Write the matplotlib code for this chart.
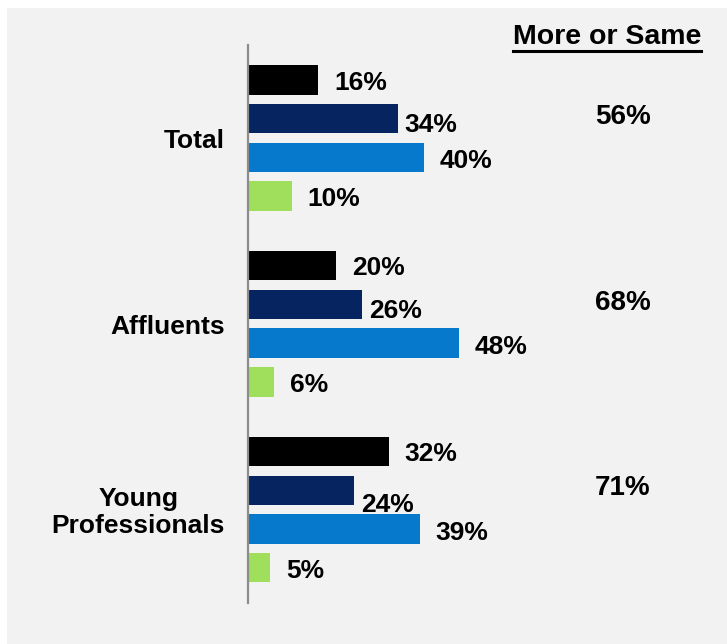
import matplotlib.pyplot as plt
from matplotlib.patches import Rectangle
from matplotlib.lines import Line2D

groups = ['Total', 'Affluents', 'Young\nProfessionals']
series_colors = ['#000000', '#06245f', '#0779cc', '#9fdf5b']
values = [
    [16, 34, 40, 10],   # Total
    [20, 26, 48, 6],    # Affluents
    [32, 24, 39, 5],    # Young Professionals
]
more_or_same = ['56%', '68%', '71%']

plt.rcParams['font.family'] = ['Liberation Sans', 'DejaVu Sans']
plt.rcParams['font.weight'] = 'bold'

W, H = 727, 644
fig = plt.figure(figsize=(W / 100, H / 100), dpi=100, facecolor='white')
# grey panel behind everything, leaving a thin white strip top/left
fig.patches.append(Rectangle((7 / W, 0), 1, 1 - 8 / H, transform=fig.transFigure,
                             facecolor='#f2f2f2', edgecolor='none', zorder=-10))

ax = fig.add_axes([248 / W, (H - 603) / H, (W - 248) / W, (603 - 45) / H])
ax.set_facecolor('none')

group_step = 4.8
label_dx = [3.6, 1.6, 3.6, 3.6]
label_dy = [0.07, 0.17, 0.09, 0.08]
# the navy label in the last group sits lower, tucked under its bar
nudge = {(2, 1): 0.2}

for g, vals in enumerate(values):
    base = g * group_step
    for j, v in enumerate(vals):
        y = base + j
        ax.barh(y, v, height=0.76, color=series_colors[j], edgecolor='none')
        ax.text(v + label_dx[j], y + label_dy[j] + nudge.get((g, j), 0), f'{v}%',
                va='center', ha='left', fontsize=19, fontweight='bold')
    ax.text(-5.2, base + 1.57, groups[g], ha='right', va='center', multialignment='center',
            fontsize=19, fontweight='bold', linespacing=1.15)
    ax.text(85.2, base + 0.95, more_or_same[g], ha='center', va='center',
            fontsize=20, fontweight='bold')

ax.set_xlim(0, (W - 248) / 4.4)
ax.set_ylim(13.51, -0.9)
for s in ['top', 'right', 'bottom']:
    ax.spines[s].set_visible(False)
ax.spines['left'].set_color('#8c8c8c')
ax.spines['left'].set_linewidth(1.6)
ax.set_xticks([])
ax.set_yticks([])

hdr = fig.text(607 / W, 1 - 37 / H, 'More or Same', ha='center', va='center',
               fontsize=20.5, fontweight='bold')
fig.canvas.draw()
bb = hdr.get_window_extent()
uy = bb.y0 - 1
fig.lines.append(Line2D([bb.x0 / W, bb.x1 / W], [uy / H, uy / H],
                        transform=fig.transFigure, color='black', linewidth=2.2))

fig.savefig('out.png', dpi=100, facecolor=fig.get_facecolor())
